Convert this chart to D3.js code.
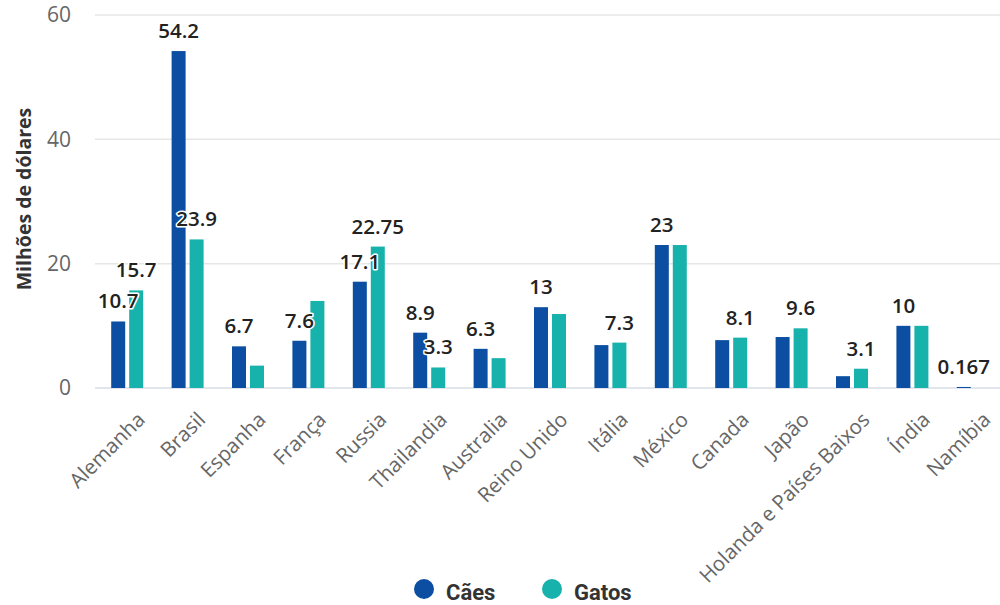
<!DOCTYPE html>
<html>
<head>
<meta charset="utf-8">
<script src="https://cdn.jsdelivr.net/npm/d3@7"></script>
<style>
  body { margin: 0; background: #fff; }
  svg { display: block; }
</style>
</head>
<body>
<svg id="chart"></svg>
<script>
const countries = ["Alemanha", "Brasil", "Espanha", "França", "Russia", "Thailandia", "Australia",
  "Reino Unido", "Itália", "México", "Canada", "Japão", "Holanda e Países Baixos", "Índia", "Namíbia"];
const caes = [10.7, 54.2, 6.7, 7.6, 17.1, 8.9, 6.3, 13, 6.9, 23, 7.7, 8.2, 1.9, 10, 0.167];
const gatos = [15.7, 23.9, 3.6, 14.0, 22.75, 3.3, 4.8, 11.9, 7.3, 23, 8.1, 9.6, 3.1, 10, null];
// which data labels are visible (the rest were hidden by overlap in the original)
const caesLabel = [1, 1, 1, 1, 1, 1, 1, 1, 0, 1, 0, 0, 0, 1, 1];
const gatosLabel = [1, 1, 0, 0, 1, 1, 0, 0, 1, 0, 1, 1, 1, 0, 0];
const yTicks = [0, 20, 40, 60];
const seriesNames = ["Cães", "Gatos"];
const colors = ["#0b4ea2", "#17b2ac"];

const w = 1000, h = 605;
const svg = d3.select("#chart").attr("width", w).attr("height", h);

const x0 = d3.scaleBand().domain(countries).range([97, 1003]);
const x1 = d3.scaleBand().domain(seriesNames).range([0, x0.bandwidth()])
  .paddingInner(0.222).paddingOuter(0.79);
const y = d3.scaleLinear().domain([0, 60]).range([388, 15]);

// grid
svg.append("g")
  .selectAll("line")
  .data(yTicks)
  .join("line")
  .attr("x1", 95).attr("x2", 1000)
  .attr("y1", d => y(d)).attr("y2", d => y(d))
  .attr("stroke", d => d === 0 ? "#d8dde6" : "#e6e6e6")
  .attr("stroke-width", 1.5);

// y axis labels
const yAxis = d3.axisLeft(y).tickValues(yTicks).tickSize(0).tickPadding(0);
svg.append("g")
  .attr("transform", "translate(71,0)")
  .call(yAxis)
  .call(g => g.select(".domain").remove())
  .selectAll("text")
  .attr("fill", "#666")
  .style("font-family", "'Open Sans', sans-serif")
  .style("font-size", "21px");

svg.append("text")
  .attr("transform", "translate(31,199) rotate(-90)")
  .attr("text-anchor", "middle")
  .attr("fill", "#333")
  .style("font-family", "'Open Sans', sans-serif")
  .style("font-weight", "700")
  .style("font-size", "19.5px")
  .text("Milhões de dólares");

// x axis labels
const xAxis = d3.axisBottom(x0).tickSize(0).tickPadding(0);
svg.append("g")
  .attr("transform", "translate(0,388)")
  .call(xAxis)
  .call(g => g.select(".domain").remove())
  .selectAll("text")
  .attr("text-anchor", "end")
  .attr("dy", 0).attr("y", 0)
  .attr("transform", "translate(19,33) rotate(-45)")
  .attr("fill", "#666")
  .style("font-family", "'Open Sans', sans-serif")
  .style("font-size", "20.5px");

// bars
const rows = countries.map((c, i) => ({
  country: c,
  items: [
    { key: "Cães", value: caes[i], show: caesLabel[i], color: colors[0] },
    { key: "Gatos", value: gatos[i], show: gatosLabel[i], color: colors[1] }
  ]
}));

const groups = svg.append("g")
  .selectAll("g")
  .data(rows)
  .join("g")
  .attr("transform", d => `translate(${x0(d.country)},0)`);

groups.selectAll("rect")
  .data(d => d.items.filter(e => e.value != null))
  .join("rect")
  .attr("x", d => x1(d.key))
  .attr("y", d => y(d.value))
  .attr("width", x1.bandwidth())
  .attr("height", d => y(0) - y(d.value))
  .attr("fill", d => d.color);

groups.selectAll("text")
  .data(d => d.items.filter(e => e.value != null && e.show))
  .join("text")
  .attr("x", d => x1(d.key) + x1.bandwidth() / 2)
  .attr("y", d => y(d.value) - 13)
  .attr("text-anchor", "middle")
  .attr("fill", "#222")
  .attr("stroke", "#fff")
  .attr("stroke-width", 3)
  .attr("stroke-linejoin", "round")
  .attr("paint-order", "stroke")
  .style("font-family", "'Open Sans', sans-serif")
  .style("font-weight", "600")
  .style("font-size", "20.5px")
  .text(d => String(d.value));

// legend
const legend = svg.append("g")
  .selectAll("g")
  .data(seriesNames)
  .join("g")
  .attr("transform", (d, i) => `translate(${i === 0 ? 424 : 552},589)`);

legend.append("circle")
  .attr("r", 10)
  .attr("fill", (d, i) => colors[i]);

legend.append("text")
  .attr("x", 22)
  .attr("y", 11)
  .attr("fill", "#333")
  .style("font-family", "Roboto, sans-serif")
  .style("font-weight", "700")
  .style("font-size", "22px")
  .text(d => d);
</script>
</body>
</html>
